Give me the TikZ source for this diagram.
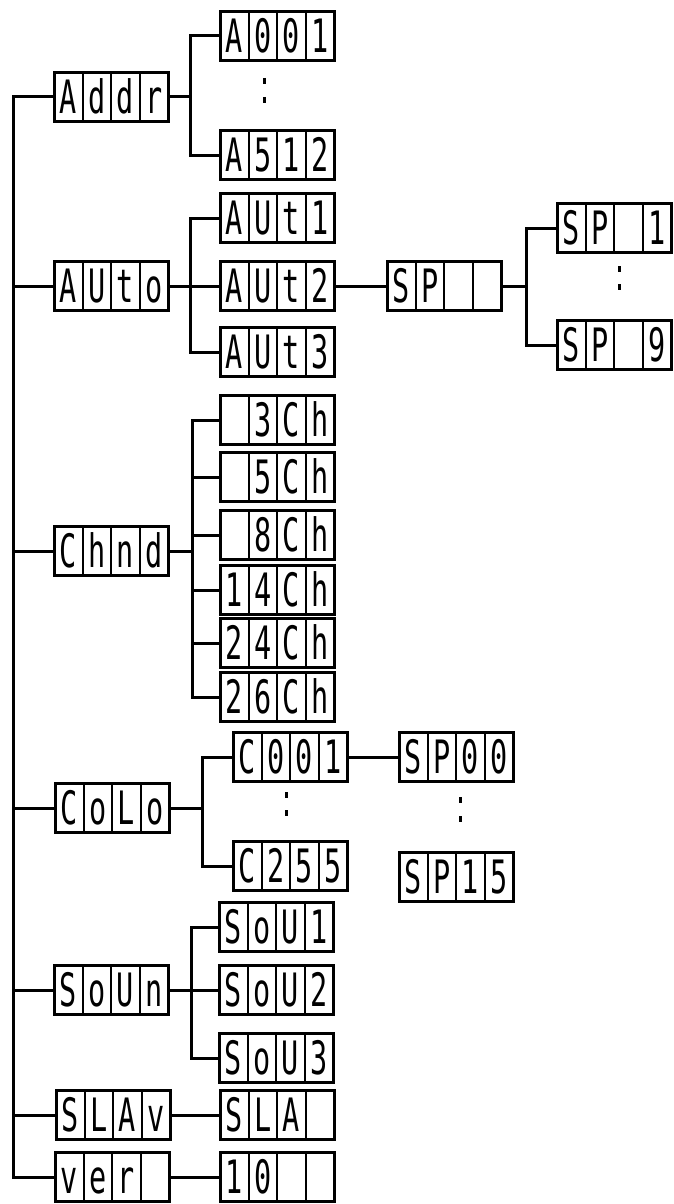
\documentclass[tikz,border=0pt]{standalone}
\usepackage{fontspec}
\newfontfamily\segfont[FakeStretch=0.62]{DejaVu Sans Mono}
\usetikzlibrary{calc}

% display box: name, position, four characters
\newcommand\dispbox[3]{%
  \node[disp] (#1) at (#2) {};
  \foreach \ch [count=\i] in {#3} {
    \node[segchar] at ($(#1.west)+(\i*28.5-14.25,0)$) {\ch};
  }
  \foreach \i in {1,2,3} {
    \draw[celldiv] ($(#1.north west)+(\i*28.5,0)$) -- ($(#1.south west)+(\i*28.5,0)$);
  }
}

\begin{document}
\begin{tikzpicture}[
        x=1pt, y=-1pt,
        disp/.style={draw, line width=3pt, rectangle, inner sep=0pt, outer sep=0pt,
            minimum width=114pt, minimum height=49pt},
        segchar/.style={inner sep=0pt, text height=33pt, text depth=0pt,
            font=\segfont\fontsize{46}{46}\selectfont},
        celldiv/.style={line width=2pt},
        wire/.style={line width=3pt},
        vdot/.style={line width=3pt}
    ]
        \useasboundingbox (0,0) rectangle (673,1204);

        % Nodes
        \dispbox{addr}{111,97}{A,d,d,r}
        \dispbox{a001}{277,36}{A,0,0,1}
        \dispbox{a512}{277,155}{A,5,1,2}

        \dispbox{auto}{111,286}{A,U,t,o}
        \dispbox{aut1}{277,218}{A,U,t,1}
        \dispbox{aut2}{277,286}{A,U,t,2}
        \dispbox{aut3}{277,352}{A,U,t,3}
        \dispbox{sp}{444,286}{S,P,{},{}}
        \dispbox{sp1}{614,228}{S,P,{},1}
        \dispbox{sp9}{614,345}{S,P,{},9}

        \dispbox{chnd}{111,551}{C,h,n,d}
        \dispbox{ch3}{277,420}{{},3,C,h}
        \dispbox{ch5}{277,477}{{},5,C,h}
        \dispbox{ch8}{277,535}{{},8,C,h}
        \dispbox{ch14}{277,590}{1,4,C,h}
        \dispbox{ch24}{277,643}{2,4,C,h}
        \dispbox{ch26}{277,697}{2,6,C,h}

        \dispbox{colo}{112,808}{C,o,L,o}
        \dispbox{c001}{290,757}{C,0,0,1}
        \dispbox{c255}{290,866}{C,2,5,5}
        \dispbox{sp00}{456,757}{S,P,0,0}
        \dispbox{sp15}{456,877}{S,P,1,5}

        \dispbox{soun}{111,990}{S,o,U,n}
        \dispbox{sou1}{276,927}{S,o,U,1}
        \dispbox{sou2}{276,990}{S,o,U,2}
        \dispbox{sou3}{276,1058}{S,o,U,3}

        \dispbox{slav}{113,1115}{S,L,A,v}
        \dispbox{sla}{277,1115}{S,L,A,{}}

        \dispbox{ver}{112,1177}{v,e,r,{}}
        \dispbox{ten}{277,1177}{1,0,{},{}}

        % Dots
        \draw[vdot] (264,78) -- ++(0,6);
        \draw[vdot] (264,97) -- ++(0,6);
        \draw[vdot] (619,266) -- ++(0,6);
        \draw[vdot] (619,284) -- ++(0,6);
        \draw[vdot] (286,792) -- ++(0,6);
        \draw[vdot] (286,810) -- ++(0,6);
        \draw[vdot] (460,797) -- ++(0,6);
        \draw[vdot] (460,816) -- ++(0,6);

        % Trunk
        \draw[wire] (addr.west) -- ++(-41,0) coordinate (trunk) |- (ver.west);
        \foreach \n in {auto,chnd,colo,soun,slav}
            \draw[wire] (\n.west) -- (\n.west -| trunk);

        % Branches
        \draw[wire] (addr.east) -- ++(22,0) coordinate (addrfork);
        \draw[wire] (a001.west) -| (addrfork) |- (a512.west);

        \draw[wire] (auto.east) -- ++(22,0) coordinate (autofork);
        \draw[wire] (aut1.west) -| (autofork) |- (aut3.west);
        \draw[wire] (autofork) -- (aut2.west);
        \draw[wire] (aut2.east) -- (sp.west);
        \draw[wire] (sp.east) -- ++(25,0) coordinate (spfork);
        \draw[wire] (sp1.west) -| (spfork) |- (sp9.west);

        \draw[wire] (chnd.east) -- ++(24,0) coordinate (chfork);
        \draw[wire] (ch3.west) -| (chfork) |- (ch26.west);
        \foreach \n in {ch5,ch8,ch14,ch24}
            \draw[wire] (\n.west) -- (\n.west -| chfork);

        \draw[wire] (colo.east) -- ++(33,0) coordinate (colofork);
        \draw[wire] (c001.west) -| (colofork) |- (c255.west);
        \draw[wire] (c001.east) -- (sp00.west);

        \draw[wire] (soun.east) -- ++(23,0) coordinate (sounfork);
        \draw[wire] (sou1.west) -| (sounfork) |- (sou3.west);
        \draw[wire] (sounfork) -- (sou2.west);

        \draw[wire] (slav.east) -- (sla.west);
        \draw[wire] (ver.east) -- (ten.west);
    \end{tikzpicture}
\end{document}
